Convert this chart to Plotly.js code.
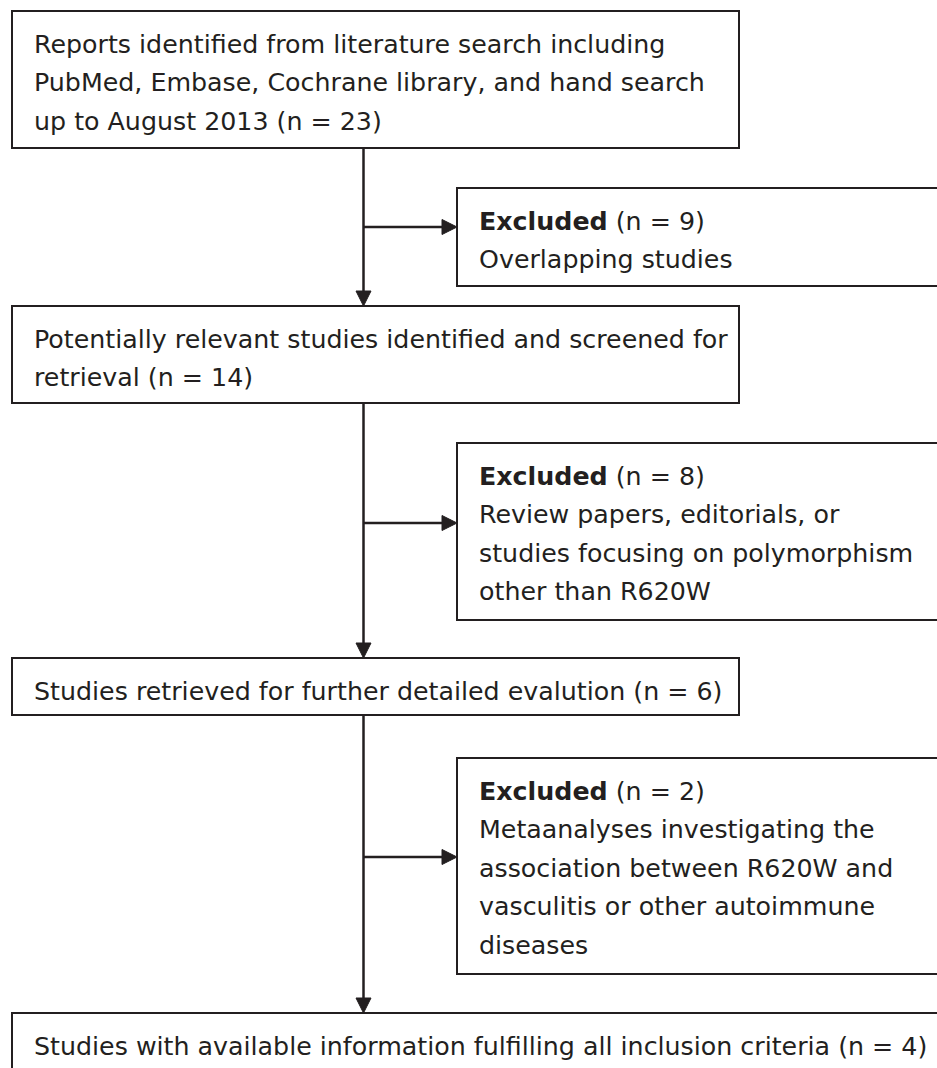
<!DOCTYPE html>
<html>
<head>
<meta charset="utf-8">
<script src="https://cdn.plot.ly/plotly-3.0.1.min.js"></script>
<style>html,body{margin:0;padding:0;background:#fff;}#chart{width:937px;height:1068px;}</style>
</head>
<body>
<div id="chart"></div>
<script>
// ---------- data ----------
const mainStepLines = [
  ["Reports identified from literature search including",
   "PubMed, Embase, Cochrane library, and hand search",
   "up to August 2013"],
  ["Potentially relevant studies identified and screened for",
   "retrieval"],
  ["Studies retrieved for further detailed evalution"],
  ["Studies with available information fulfilling all inclusion criteria"]
];
const mainCounts = [23, 14, 6, 4];
const excludedLabel = "Excluded";
const excludedCounts = [9, 8, 2];
const excludedReasonLines = [
  ["Overlapping studies"],
  ["Review papers, editorials, or",
   "studies focusing on polymorphism",
   "other than R620W"],
  ["Metaanalyses investigating the",
   "association between R620W and",
   "vasculitis or other autoimmune",
   "diseases"]
];

// ---------- layout geometry (pixels) ----------
const W = 937, H = 1068;
const mainBoxes = [
  {x0: 12, x1: 739, y0: 11, y1: 148},
  {x0: 12, x1: 739, y0: 306, y1: 403},
  {x0: 12, x1: 739, y0: 658, y1: 715},
  {x0: 12, x1: 950, y0: 1013, y1: 1090}
];
const exclBoxes = [
  {x0: 457, x1: 950, y0: 188, y1: 286, arrowY: 227},
  {x0: 457, x1: 950, y0: 443, y1: 620, arrowY: 523},
  {x0: 457, x1: 950, y0: 758, y1: 974, arrowY: 857}
];
const spineX = 363.5;
const firstLineOffset = 33;   // from box top to first text line centre
const lineStep = 38.5;
const textPad = 20;
const lineColor = "#231f20";
const font = {family: "DejaVu Sans, Verdana, sans-serif", size: 25.3, color: "#231f20"};

const shapes = [];
const annotations = [];

function rect(b) {
  shapes.push({type: "rect", xref: "x", yref: "y", x0: b.x0, x1: b.x1, y0: b.y0, y1: b.y1,
    line: {color: lineColor, width: 2}, fillcolor: "rgba(0,0,0,0)", layer: "above"});
}
function seg(x0, y0, x1, y1) {
  shapes.push({type: "line", xref: "x", yref: "y", x0: x0, y0: y0, x1: x1, y1: y1,
    line: {color: lineColor, width: 2.5}});
}
function headDown(x, y) {
  shapes.push({type: "path", xref: "x", yref: "y",
    path: `M ${x - 7.5} ${y - 15} L ${x + 7.5} ${y - 15} L ${x} ${y} Z`,
    fillcolor: lineColor, line: {color: lineColor, width: 1}});
}
function headRight(x, y) {
  shapes.push({type: "path", xref: "x", yref: "y",
    path: `M ${x - 15} ${y - 7.5} L ${x - 15} ${y + 7.5} L ${x} ${y} Z`,
    fillcolor: lineColor, line: {color: lineColor, width: 1}});
}
function textLine(x, y, txt) {
  annotations.push({xref: "x", yref: "y", x: x, y: y, text: txt, showarrow: false,
    xanchor: "left", yanchor: "middle", align: "left", font: font});
}

// main boxes
mainBoxes.forEach((b, i) => {
  rect(b);
  const lines = mainStepLines[i].slice();
  const last = lines.length - 1;
  const countTxt = "(n = " + mainCounts[i] + ")";
  lines[last] = lines[last] + " " + countTxt;
  lines.forEach((t, k) => textLine(b.x0 + textPad, b.y0 + firstLineOffset + k * lineStep, t));
});

// spine + arrows between main boxes
for (let i = 0; i < mainBoxes.length - 1; i++) {
  const top = mainBoxes[i].y1, bot = mainBoxes[i + 1].y0;
  seg(spineX, top, spineX, bot - 12);
  headDown(spineX, bot);
}

// excluded boxes
exclBoxes.forEach((b, i) => {
  rect(b);
  seg(spineX, b.arrowY, b.x0 - 12, b.arrowY);
  headRight(b.x0, b.arrowY);
  const lines = ["<b>" + excludedLabel + "</b> (n = " + excludedCounts[i] + ")"].concat(excludedReasonLines[i]);
  lines.forEach((t, k) => textLine(b.x0 + textPad, b.y0 + firstLineOffset + k * lineStep, t));
});

const layout = {
  width: W, height: H,
  margin: {l: 0, r: 0, t: 0, b: 0, pad: 0},
  paper_bgcolor: "#ffffff", plot_bgcolor: "#ffffff",
  xaxis: {range: [0, W], visible: false, fixedrange: true},
  yaxis: {range: [H, 0], visible: false, fixedrange: true},
  showlegend: false,
  shapes: shapes,
  annotations: annotations
};
const trace = {x: [0, W], y: [0, H], mode: "markers", marker: {opacity: 0}, hoverinfo: "skip", showlegend: false};
Plotly.newPlot("chart", [trace], layout, {staticPlot: true, displayModeBar: false});
</script>
</body>
</html>
